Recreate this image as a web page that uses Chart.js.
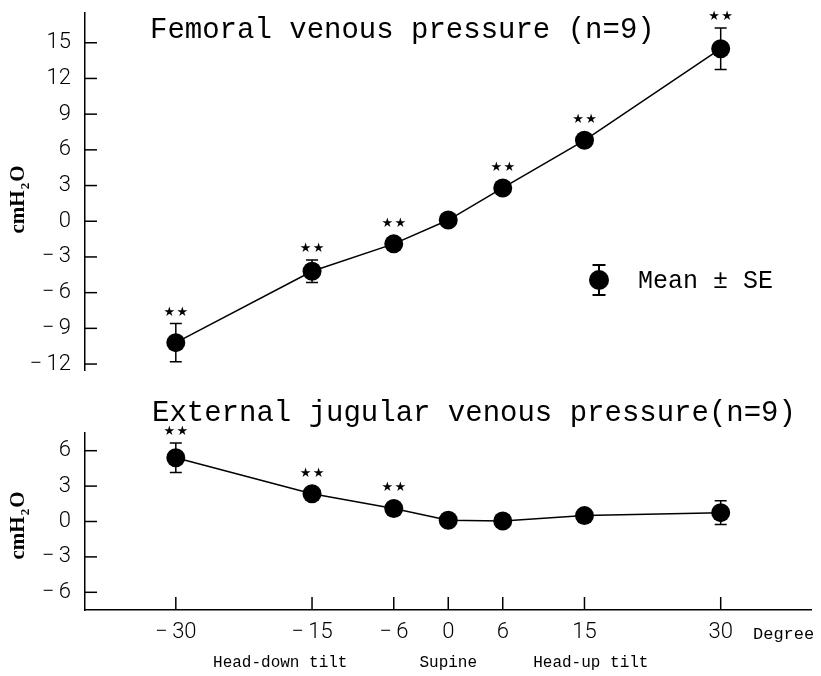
<!DOCTYPE html>
<html>
<head>
<meta charset="utf-8">
<script src="https://cdn.jsdelivr.net/npm/chart.js@4.4.1/dist/chart.umd.min.js"></script>
<style>
  html, body { margin: 0; padding: 0; background: #fff; }
  #wrap { position: relative; width: 821px; height: 676px; overflow: hidden; }
  #top { position: absolute; left: 0; top: -30px; }
  #bottom { position: absolute; left: 0; top: 390px; }
</style>
</head>
<body>
<div id="wrap">
  <canvas id="top" width="821" height="440"></canvas>
  <canvas id="bottom" width="821" height="286"></canvas>
</div>
<script>
// tilt angles (degrees) and tick labels
const degrees = [-30, -15, -6, 0, 6, 15, 30];
const degreeTicks = [-30, -15, -6, 0, 6, 15, 30];

// femoral venous pressure, cmH2O
const femoralMean = [-10.2, -4.2, -1.9, 0.1, 2.8, 6.8, 14.5];
const femoralSE = [1.6, 0.95, 0.4, 0.3, 0.4, 0.5, 1.75];
const femoralSig = [true, true, true, false, true, true, true];
const femoralTicks = [-12, -9, -6, -3, 0, 3, 6, 9, 12, 15];

// external jugular venous pressure, cmH2O
const jugularMean = [5.4, 2.35, 1.1, 0.1, 0.05, 0.5, 0.75];
const jugularSE = [1.25, 0.4, 0.4, 0.3, 0.3, 0.4, 1.0];
const jugularSig = [true, true, true, false, false, false, false];
const jugularTicks = [-6, -3, 0, 3, 6];

// labels under the x axis, placed at a degree value
const tiltLabels = ["Head-down tilt", "Supine", "Head-up tilt"];
const tiltPositions = [-18.5, 0, 15.7];

const tickFont = { family: "Roboto, 'Liberation Sans', sans-serif", size: 22, weight: 300 };
const monoFont = "'Liberation Mono', 'DejaVu Sans Mono', monospace";

function fmt(v) {
  return v < 0 ? "\u2212\u2009" + Math.abs(v) : String(v);
}

// error bars, stars, inward ticks, titles
const decorPlugin = {
  id: "decor",
  beforeDatasetsDraw(chart) {
    const o = chart.options.plugins.decor;
    const ctx = chart.ctx;
    const xs = chart.scales.x, ys = chart.scales.y;
    ctx.save();
    ctx.strokeStyle = "#000";
    ctx.lineWidth = 1.5;
    degrees.forEach((d, i) => {
      const x = xs.getPixelForValue(d);
      const y1 = ys.getPixelForValue(o.mean[i] + o.se[i]);
      const y2 = ys.getPixelForValue(o.mean[i] - o.se[i]);
      ctx.beginPath();
      ctx.moveTo(x, y1); ctx.lineTo(x, y2);
      ctx.moveTo(x - 6, y1); ctx.lineTo(x + 6, y1);
      ctx.moveTo(x - 6, y2); ctx.lineTo(x + 6, y2);
      ctx.stroke();
    });
    ctx.restore();
  },
  afterDraw(chart) {
    const o = chart.options.plugins.decor;
    const ctx = chart.ctx;
    const xs = chart.scales.x, ys = chart.scales.y;
    const area = chart.chartArea;
    ctx.save();
    ctx.strokeStyle = "#000";
    ctx.fillStyle = "#000";
    ctx.lineWidth = 1.5;

    // inward ticks
    ys.ticks.forEach(t => {
      const y = ys.getPixelForValue(t.value);
      ctx.beginPath(); ctx.moveTo(area.left, y); ctx.lineTo(area.left + 12, y); ctx.stroke();
    });
    if (o.showX) {
      xs.ticks.forEach(t => {
        const x = xs.getPixelForValue(t.value);
        ctx.beginPath(); ctx.moveTo(x, area.bottom); ctx.lineTo(x, area.bottom - 13); ctx.stroke();
      });
    }

    // significance stars
    ctx.font = "13px 'DejaVu Sans'";
    ctx.textAlign = "center";
    ctx.textBaseline = "middle";
    degrees.forEach((d, i) => {
      if (!o.sig[i]) return;
      const x = xs.getPixelForValue(d);
      const yp = ys.getPixelForValue(o.mean[i]);
      const yt = ys.getPixelForValue(o.mean[i] + o.se[i]);
      const y = Math.min(yt, yp - 9.5) - 11;
      ctx.fillText("\u2605", x - 6.5, y);
      ctx.fillText("\u2605", x + 6.5, y);
    });

    // title
    ctx.textAlign = "left";
    ctx.textBaseline = "alphabetic";
    ctx.font = "29px " + monoFont;
    ctx.fillText(o.title, o.titleX, area.top + o.titleDy);

    // y axis label cmH2O, rotated
    ctx.save();
    ctx.translate(24, (area.top + area.bottom) / 2 + o.labelDy);
    ctx.rotate(-Math.PI / 2);
    const big = "bold 21px 'Liberation Serif', serif";
    const small = "bold 13px 'Liberation Serif', serif";
    ctx.font = big;
    const w1 = ctx.measureText("cmH").width;
    const w3 = ctx.measureText("O").width;
    ctx.font = small;
    const w2 = ctx.measureText("2").width + 2;
    let x0 = -(w1 + w2 + w3) / 2;
    ctx.font = big;
    ctx.fillText("cmH", x0, 0);
    ctx.font = small;
    ctx.fillText("2", x0 + w1 + 1, 5);
    ctx.font = big;
    ctx.fillText("O", x0 + w1 + w2, 0);
    ctx.restore();

    if (o.legend) {
      // Mean ± SE key
      const lx = 599, ly = area.top + 267;
      ctx.beginPath();
      ctx.moveTo(lx, ly - 15); ctx.lineTo(lx, ly + 15);
      ctx.moveTo(lx - 6.5, ly - 15); ctx.lineTo(lx + 6.5, ly - 15);
      ctx.moveTo(lx - 6.5, ly + 15); ctx.lineTo(lx + 6.5, ly + 15);
      ctx.lineWidth = 2;
      ctx.stroke();
      ctx.beginPath(); ctx.arc(lx, ly, 10, 0, Math.PI * 2); ctx.fill();
      ctx.font = "25px " + monoFont;
      ctx.textBaseline = "middle";
      ctx.fillText("Mean \u00b1 SE", 638, ly + 1);
    }

    if (o.showX) {
      ctx.textBaseline = "middle";
      ctx.font = "17px " + monoFont;
      ctx.textAlign = "left";
      ctx.fillText("Degree", 753, area.bottom + 24);
      ctx.font = "16px " + monoFont;
      ctx.textAlign = "center";
      tiltLabels.forEach((t, i) => {
        ctx.fillText(t, xs.getPixelForValue(tiltPositions[i]), area.bottom + 53);
      });
    }
    ctx.restore();
  }
};

function buildChart(canvas, cfg) {
  return new Chart(canvas, {
    type: "line",
    data: {
      datasets: [{
        data: degrees.map((d, i) => ({ x: d, y: cfg.mean[i] })),
        borderColor: "#000",
        borderWidth: 1.5,
        backgroundColor: "#000",
        pointRadius: 9.5,
        pointBorderWidth: 0,
        pointBackgroundColor: "#000",
        tension: 0,
        clip: false
      }]
    },
    options: {
      responsive: false,
      animation: false,
      devicePixelRatio: 1,
      layout: { padding: cfg.padding },
      plugins: {
        legend: { display: false },
        tooltip: { enabled: false },
        decor: cfg
      },
      scales: {
        x: {
          type: "linear",
          min: -40, max: 40,
          afterBuildTicks: s => { s.ticks = degreeTicks.map(v => ({ value: v })); },
          afterFit: s => { s.height = cfg.xHeight; },
          grid: { display: false, drawTicks: false },
          border: { display: cfg.showX, color: "#000", width: 1.5 },
          ticks: { display: cfg.showX, color: "#000", font: tickFont, padding: 9,
                   maxRotation: 0, autoSkip: false, callback: fmt }
        },
        y: {
          min: cfg.yMin, max: cfg.yMax,
          afterBuildTicks: s => { s.ticks = cfg.yTicks.map(v => ({ value: v })); },
          afterFit: s => { s.width = 85; },
          grid: { display: false, drawTicks: false },
          border: { display: true, color: "#000", width: 1.5 },
          ticks: { color: "#000", font: tickFont, padding: 14, callback: fmt }
        }
      }
    },
    plugins: [decorPlugin]
  });
}

// top canvas sits 30px above the page edge so its plot area spans y 13..370
buildChart(document.getElementById("top"), {
  mean: femoralMean, se: femoralSE, sig: femoralSig,
  yMin: -12.5, yMax: 17.5, yTicks: femoralTicks,
  showX: false, xHeight: 40, legend: true,
  padding: { top: 43, bottom: 0, left: 0, right: 9 },
  title: "Femoral venous pressure (n=9)", titleX: 150, titleDy: 25,
  labelDy: 8
});

buildChart(document.getElementById("bottom"), {
  mean: jugularMean, se: jugularSE, sig: jugularSig,
  yMin: -7.5, yMax: 7.5, yTicks: jugularTicks,
  showX: true, xHeight: 66, legend: false,
  padding: { top: 43, bottom: 0, left: 0, right: 9 },
  title: "External jugular venous pressure(n=9)", titleX: 152, titleDy: -12,
  labelDy: 4
});
</script>
</body>
</html>
